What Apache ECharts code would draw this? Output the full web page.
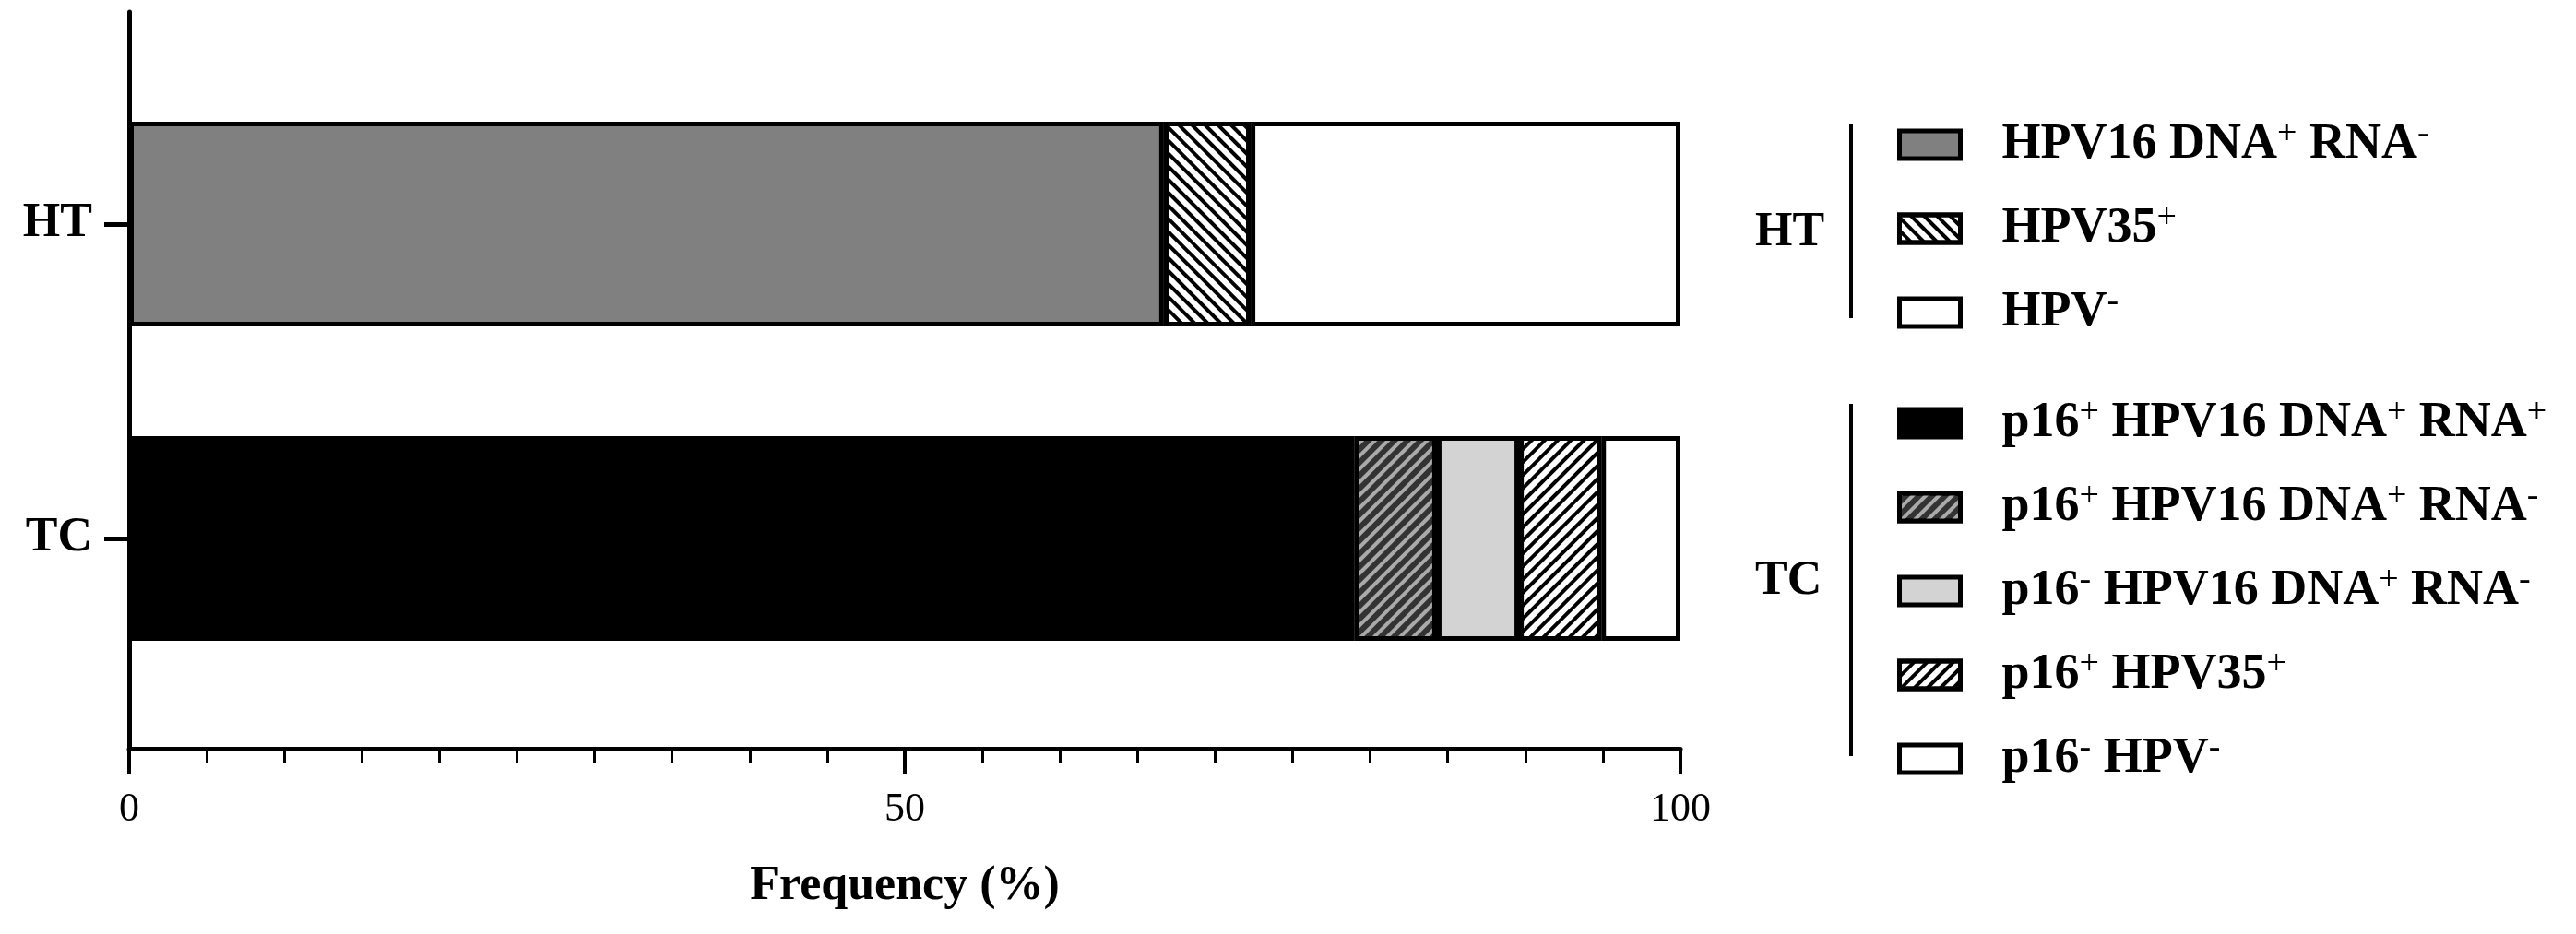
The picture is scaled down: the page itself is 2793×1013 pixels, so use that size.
<!DOCTYPE html>
<html>
<head>
<meta charset="utf-8">
<script src="https://cdn.jsdelivr.net/npm/echarts@6/dist/echarts.min.js"></script>
<style>
html, body { margin: 0; padding: 0; background: #fff; }
#main { width: 2793px; height: 1013px; }
</style>
</head>
<body>
<div id="main"></div>
<script>
// groups on the y axis, bottom to top
const categories = ['TC', 'HT'];
// HT segments (%)
const htNames = ['HPV16 DNA+ RNA-', 'HPV35+', 'HPV-'];
const htValues = [66.7, 5.6, 27.7];
// TC segments (%)
const tcNames = ['p16+ HPV16 DNA+ RNA+', 'p16+ HPV16 DNA+ RNA-', 'p16- HPV16 DNA+ RNA-', 'p16+ HPV35+', 'p16- HPV-'];
const tcValues = [79.0, 5.3, 5.3, 5.3, 5.1];
// x axis tick labels
const xTicks = [0, 50, 100];

const SERIF = 'Liberation Serif';

// hatch pattern
const stripe = (rot, color) => ({
    symbol: 'rect',
    symbolSize: 1,
    dashArrayX: [1, 0],
    dashArrayY: [4, 6],
    rotation: rot,
    color: color
});

const htStyles = [
    { color: '#808080' },
    { color: '#fff', decal: stripe(Math.PI / 4, '#000') },
    { color: '#fff' }
];
const tcStyles = [
    { color: '#000' },
    { color: '#333', decal: stripe(-Math.PI / 4, '#aaa') },
    { color: '#d3d3d3' },
    { color: '#fff', decal: stripe(-Math.PI / 4, '#000') },
    { color: '#fff' }
];

const makeSeries = (names, values, styles, catIdx) => names.map((n, i) => {
    const data = categories.map(() => '-');
    data[catIdx] = values[i];
    return {
        name: n,
        type: 'bar',
        stack: 'all',
        xAxisIndex: 1,
        yAxisIndex: 1,
        barWidth: 222,
        silent: true,
        data: data,
        itemStyle: Object.assign({ borderColor: '#000', borderWidth: 5 }, styles[i])
    };
});

// "+" and "-" become superscripts
const richName = (name) => name.split(/([+-])/).filter(s => s).map(s =>
    (s === '+' || s === '-') ? '{s|' + s + '}' : '{t|' + s + '}').join('');

const legendBase = {
    orient: 'vertical',
    left: 2052,
    icon: 'rect',
    itemWidth: 66,
    itemHeight: 30,
    itemGap: 34,
    selectedMode: false,
    itemStyle: { borderColor: '#000', borderWidth: 5 },
    formatter: richName,
    textStyle: {
        padding: [0, 0, 0, 40],
        rich: {
            t: { fontFamily: SERIF, fontWeight: 'bold', fontSize: 54, lineHeight: 60, color: '#000' },
            s: { fontFamily: SERIF, fontWeight: 'normal', fontSize: 38, lineHeight: 28, verticalAlign: 'top', color: '#000' }
        }
    }
};

var chartDom = document.getElementById('main');
var myChart = echarts.init(chartDom);
var option = {
    animation: false,
    backgroundColor: '#fff',
    grid: [
        { left: 140, right: 971, top: 13, bottom: 201 },
        { left: 140, right: 971, top: 72.5, bottom: 258.5 }
    ],
    xAxis: [
        {
            gridIndex: 0,
            type: 'value',
            min: xTicks[0],
            max: xTicks[xTicks.length - 1],
            interval: xTicks[1] - xTicks[0],
            name: 'Frequency (%)',
            nameLocation: 'middle',
            nameGap: 124,
            nameTextStyle: { fontFamily: SERIF, fontWeight: 'bold', fontSize: 52, color: '#000' },
            axisLine: { show: true, lineStyle: { color: '#000', width: 5 } },
            axisTick: { show: true, length: 28, lineStyle: { color: '#000', width: 4 } },
            minorTick: { show: true, splitNumber: 10, length: 15, lineStyle: { color: '#000', width: 3 } },
            splitLine: { show: false },
            axisLabel: { margin: 44, fontFamily: SERIF, fontSize: 44, color: '#000' }
        },
        { gridIndex: 1, type: 'value', min: 0, max: 100, show: false }
    ],
    yAxis: [
        {
            gridIndex: 0,
            type: 'value',
            axisLine: { show: true, lineStyle: { color: '#000', width: 5 } },
            axisTick: { show: false },
            axisLabel: { show: false },
            splitLine: { show: false }
        },
        {
            gridIndex: 1,
            type: 'category',
            data: categories,
            axisLine: { show: false },
            axisTick: { show: true, alignWithLabel: true, length: 27, lineStyle: { color: '#000', width: 5 } },
            axisLabel: { margin: 40, fontFamily: SERIF, fontWeight: 'bold', fontSize: 52, color: '#000' }
        }
    ],
    legend: [
        Object.assign({}, legendBase, { top: 122, data: htNames }),
        Object.assign({}, legendBase, { top: 424, data: tcNames })
    ],
    graphic: [
        { type: 'text', left: 1903, top: 227, style: { text: 'HT', fontFamily: SERIF, fontWeight: 'bold', fontSize: 52, fill: '#000' } },
        { type: 'text', left: 1903, top: 605, style: { text: 'TC', fontFamily: SERIF, fontWeight: 'bold', fontSize: 52, fill: '#000' } },
        { type: 'line', shape: { x1: 2007, y1: 135, x2: 2007, y2: 345 }, style: { stroke: '#000', lineWidth: 4 } },
        { type: 'line', shape: { x1: 2007, y1: 438, x2: 2007, y2: 820 }, style: { stroke: '#000', lineWidth: 4 } }
    ],
    series: makeSeries(htNames, htValues, htStyles, 1).concat(makeSeries(tcNames, tcValues, tcStyles, 0))
};
option && myChart.setOption(option);
</script>
</body>
</html>
